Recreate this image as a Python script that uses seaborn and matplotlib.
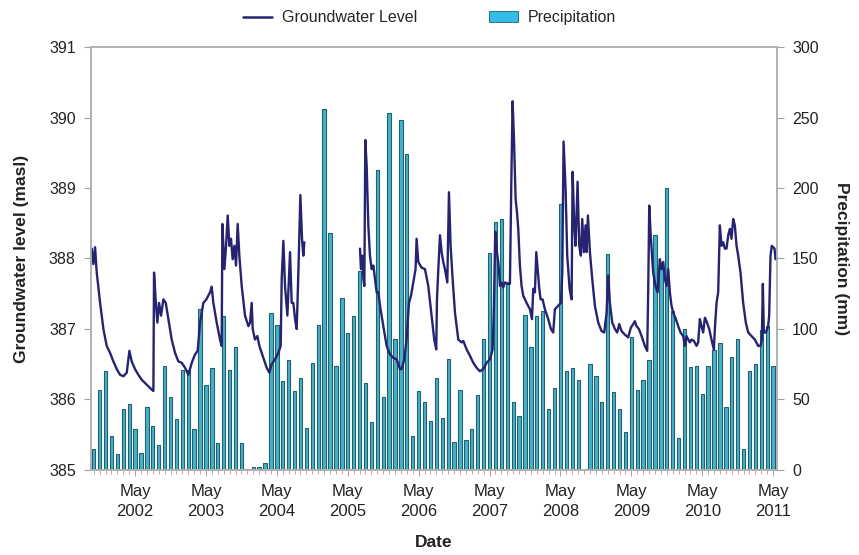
import numpy as np
import pandas as pd
import matplotlib
matplotlib.use("Agg")
import matplotlib.pyplot as plt
from matplotlib.lines import Line2D
from matplotlib.patches import Patch
from matplotlib.ticker import MultipleLocator, FixedLocator
import seaborn as sns

# ---------------- data ----------------
# monthly precipitation (mm), first bar = Oct 2001 (month index 0)
precip_mm = [15, 57, 70, 24, 11, 43, 47, 29, 12, 45, 31, 18, 74, 52, 36, 71, 71, 29, 114, 60,
             72, 19, 109, 71, 87, 19, 1, 2, 2, 5, 111, 103, 63, 78, 56, 65, 30, 76, 103,
             256, 168, 74, 122, 97, 109, 141, 62, 34, 213, 52, 253, 93, 248, 224, 24, 56, 48, 35, 65,
             37, 79, 20, 57, 21, 29, 53, 93, 154, 176, 178, 133, 48, 38, 110, 87, 109, 113, 43, 58,
             189, 70, 72, 64, 0, 75, 67, 48, 153, 55, 43, 27, 94, 57, 64, 78, 167, 145,
             200, 113, 23, 100, 73, 74, 54, 74, 85, 90, 45, 80, 93, 15, 70, 75, 99, 102, 74]
precip_month = list(range(len(precip_mm)))

# groundwater level (masl), x in months since Oct 2001; two recorded segments
gw_month_1 = [-0.33, -0.05, 0.23, 0.51, 1.08, 1.64, 2.2, 2.77, 3.33, 3.9, 4.46, 5.03, 5.59, 6.04, 6.43,
              7.0, 7.56, 8.13, 8.97, 9.82, 10.1, 10.21, 10.55, 10.78, 11.06, 11.4, 11.79, 12.19, 12.64,
              13.2, 13.77, 14.33, 14.9, 15.46, 16.02, 16.59, 17.15, 17.6, 18.0, 18.56, 19.07, 19.69,
              19.97, 20.25, 20.82, 21.38, 21.66, 21.78, 22.12, 22.4, 22.68, 22.96, 23.24, 23.52, 23.81,
              24.09, 24.37, 24.65, 25.05, 25.61, 26.18, 26.46, 26.74, 26.91, 27.3, 27.7, 28.04, 28.6,
              29.28, 29.73, 30.12, 30.69, 31.25, 31.65, 31.82, 32.1, 32.38, 32.78, 33.23, 33.51, 33.79,
              34.08, 34.36, 34.64, 34.98, 35.26, 35.48, 35.65]
gw_level_1 = [388.14, 387.92, 388.16, 387.80, 387.37, 387.0, 386.76, 386.66, 386.54, 386.43, 386.35,
              386.33, 386.38, 386.69, 386.54, 386.43, 386.35, 386.28, 386.21, 386.14, 386.12, 387.80,
              387.33, 387.09, 387.37, 387.19, 387.42, 387.37, 387.14, 386.85, 386.66, 386.54, 386.52,
              386.45, 386.35, 386.52, 386.64, 386.69, 387.09, 387.37, 387.42, 387.52, 387.6, 387.37,
              387.09, 386.85, 386.76, 388.49, 387.85, 388.18, 388.61, 388.18, 388.28, 387.99, 388.18,
              387.90, 388.49, 388.04, 387.61, 387.19, 387.04, 387.09, 387.37, 387.0, 386.85, 386.9,
              386.76, 386.62, 386.45, 386.38, 386.5, 386.57, 386.66, 386.76, 387.71, 388.25, 387.61,
              387.19, 388.09, 387.37, 387.37, 387.14, 387.0, 387.8, 388.9, 388.28, 388.04, 388.23]

gw_month_2 = [45.07, 45.24, 45.47, 45.64, 45.81, 45.97, 46.2, 46.48, 46.76, 47.04, 47.33, 47.61, 47.89,
              48.17, 48.46, 49.02, 49.58, 50.15, 50.71, 51.27, 51.84, 52.12, 52.57, 52.96, 53.36, 53.7,
              54.09, 54.48, 54.65, 54.94, 55.5, 56.07, 56.63, 57.19, 57.64, 57.98,
              58.1, 58.33, 58.61, 58.89, 59.17, 59.45, 59.85, 60.13, 60.41, 60.75, 61.15, 61.71, 62.27,
              62.56, 63.12, 63.68, 64.25, 64.81, 65.37, 65.94, 66.5, 67.07, 67.52, 67.74, 67.97, 68.25,
              68.53, 68.76, 69.04, 69.32, 69.61, 70.0, 70.45, 70.68, 70.9, 71.13, 71.41, 71.69, 71.86,
              72.14, 72.42, 72.71, 73.27, 73.84, 74.18, 74.4, 74.68, 74.91, 75.19, 75.42, 75.64, 75.98,
              76.37, 76.94, 77.39, 77.78, 78.06, 78.63, 79.08, 79.31, 79.53, 79.87, 80.15, 80.55, 80.89,
              81.06, 81.34, 81.56, 81.9, 82.18, 82.46, 82.69, 82.97, 83.25, 83.42, 83.65, 83.99, 84.38,
              84.83, 85.4, 85.96, 86.41, 86.81, 87.09, 87.37, 87.77, 88.22, 88.61, 88.95, 89.34, 89.91,
              90.47, 90.92, 91.32, 91.6, 91.88, 92.28, 92.73, 93.29, 93.69, 93.86, 94.03, 94.31, 94.7,
              95.1, 95.44, 95.83, 96.11, 96.4, 96.68, 96.96, 97.24, 97.52, 97.8, 98.09, 98.54, 98.93,
              99.33, 99.78, 100.06, 100.34, 100.63, 100.91, 101.19, 101.59, 102.04, 102.32, 102.6,
              102.88, 103.16, 103.45, 103.73, 104.18, 104.57, 104.97, 105.14, 105.42, 105.7, 105.98,
              106.27, 106.55, 106.83, 107.11, 107.4, 107.68, 107.96, 108.24, 108.52, 108.81, 109.09,
              109.48, 109.93, 110.38, 110.78, 111.34, 111.9, 112.47, 112.86, 113.09, 113.26, 113.43,
              113.77, 114.16, 114.33, 114.56, 114.78, 115.01, 115.24, 115.41, 115.58]
gw_level_2 = [388.14, 387.85, 388.04, 387.71, 387.61, 389.68, 389.32, 388.47, 388.04, 387.85, 387.90,
              387.71, 387.52, 387.52, 387.33, 387.04, 386.76, 386.64, 386.59, 386.57, 386.43, 386.43,
              386.57, 386.85, 387.37, 387.47, 387.66, 387.85, 388.28, 387.95, 387.87, 387.85, 387.61,
              387.19, 386.85, 386.71,
              387.42, 387.85, 388.33, 388.09, 387.95, 387.85, 387.66, 388.94, 388.18, 387.71, 387.23,
              386.85, 386.81, 386.83, 386.71, 386.62, 386.52, 386.45, 386.40, 386.43, 386.52, 386.57,
              386.71, 387.33, 388.38, 388.09, 387.90, 387.61, 387.66, 387.59, 387.66, 387.64, 387.64,
              389.04, 390.23, 389.71, 388.85, 388.61, 388.42, 387.90, 387.61, 387.47, 387.37, 387.28,
              387.14, 387.57, 387.52, 388.09, 387.80, 387.57, 387.42, 387.42, 387.28, 387.14,
              387.0, 386.95, 387.28, 387.33, 387.37, 387.8, 389.66, 388.99, 388.04, 387.57, 387.42,
              389.23, 388.47, 388.18, 389.09, 388.18, 388.04, 388.56, 388.09, 388.47, 388.09, 388.61,
              388.09, 387.71, 387.33, 387.09, 386.97, 386.95, 387.23, 387.76, 387.37, 387.09, 387.0,
              386.95, 387.07, 386.97, 386.92, 386.88, 387.02, 387.07, 387.11, 387.04, 387.0, 386.9,
              386.76, 386.69, 387.57, 388.75, 388.28, 387.8, 387.61, 387.52, 387.99, 387.85, 387.95,
              387.71, 387.61, 387.85, 387.52, 387.33, 387.23, 387.14, 387.04, 386.95, 386.9, 386.76,
              386.9, 386.85, 386.81, 386.85, 386.83, 386.76, 386.81, 387.14, 387.04, 386.95, 387.16,
              387.11, 387.0, 386.85, 386.71, 387.0, 387.37, 387.52, 388.47, 388.18, 388.23, 388.14,
              388.14, 388.33, 388.42, 388.28, 388.56, 388.47, 388.18, 388.04, 387.8, 387.37, 387.09,
              386.95, 386.9, 386.85, 386.76, 386.76, 386.85, 387.64, 386.95, 386.95, 387.04, 387.19,
              388.04, 388.18, 388.16, 388.14, 387.99, 387.99]

tick_years = [2002, 2003, 2004, 2005, 2006, 2007, 2008, 2009, 2010, 2011]
tick_month = "May"
may_offset = 7  # May 2002 is month index 7 after Oct 2001

# ---------------- figure ----------------
sns.set_theme(style="white")
plt.rcParams["font.family"] = ["Liberation Sans", "DejaVu Sans"]

fig = plt.figure(figsize=(8.59, 5.55), dpi=100)
ax_gw = fig.add_axes([0.106, 0.1532, 0.7985, 0.7621])
ax_pr = ax_gw.twinx()
ax_gw.set_zorder(ax_pr.get_zorder() + 1)
ax_gw.patch.set_visible(False)

bar_df = pd.DataFrame({"month": precip_month, "precip": precip_mm})
sns.barplot(data=bar_df, x="month", y="precip", ax=ax_pr, native_scale=True,
            color="#45b2cb", edgecolor="#23606e", linewidth=0.8, width=0.56,
            saturation=1, errorbar=None)

gw_df = pd.DataFrame({
    "month": gw_month_1 + gw_month_2,
    "level": gw_level_1 + gw_level_2,
    "seg": [1] * len(gw_month_1) + [2] * len(gw_month_2),
})
sns.lineplot(data=gw_df, x="month", y="level", units="seg", estimator=None, sort=False,
             ax=ax_gw, color="#262470", linewidth=1.7)

ax_gw.set_xlim(-0.45, 115.65)
ax_pr.set_xlim(-0.45, 115.65)
ax_gw.set_ylim(385, 391)
ax_pr.set_ylim(0, 300)
ax_pr.yaxis.set_major_locator(MultipleLocator(50))
ax_gw.set_yticks(range(385, 392))
ax_gw.set_yticklabels([str(v) for v in range(385, 392)])

tpos = [may_offset + 12 * i for i in range(len(tick_years))]
ax_gw.xaxis.set_major_locator(FixedLocator(tpos))
ax_gw.set_xticklabels([f"{tick_month}\n{y}" for y in tick_years], linespacing=1.4)
ax_gw.xaxis.set_minor_locator(MultipleLocator(1))
ax_pr.tick_params(axis="x", which="both", bottom=False, labelbottom=False)

tick_color = "#222222"
ax_gw.tick_params(axis="y", which="major", left=True, length=5, width=0.8, color="#a0a0a0",
                  labelsize=11.5, labelcolor=tick_color, pad=6)
ax_pr.tick_params(axis="y", which="major", right=True, length=5, width=0.8, color="#a0a0a0",
                  labelsize=11.5, labelcolor=tick_color, pad=6)
ax_gw.tick_params(axis="x", which="major", bottom=True, length=4, width=0.7, color="#d09090",
                  labelsize=12, labelcolor=tick_color, pad=6)
ax_gw.tick_params(axis="x", which="minor", bottom=True, length=3, width=0.6, color="#d09090")

for a in (ax_gw, ax_pr):
    for s in a.spines.values():
        s.set_color("#b0b0b0")
        s.set_linewidth(1.2)

ax_gw.set_xlabel("Date", fontsize=12.5, fontweight="bold", color="#222222", labelpad=12)
ax_gw.set_ylabel("Groundwater level (masl)", fontsize=12.5, fontweight="bold", color="#222222",
                 labelpad=14)
ax_pr.set_ylabel("Precipitation (mm)", fontsize=12.5, fontweight="bold", color="#222222",
                 rotation=270, labelpad=22)

handles = [Line2D([0], [0], color="#262470", linewidth=1.8),
           Patch(facecolor="#33bde6", edgecolor="#23606e", linewidth=0.6)]
fig.legend(handles, ["Groundwater Level", "Precipitation"], loc="center",
           bbox_to_anchor=(0.5, 0.968), ncol=2, frameon=False, fontsize=11.5,
           handlelength=1.8, columnspacing=4.5, handletextpad=0.6)

fig.savefig("out.png", dpi=100)
